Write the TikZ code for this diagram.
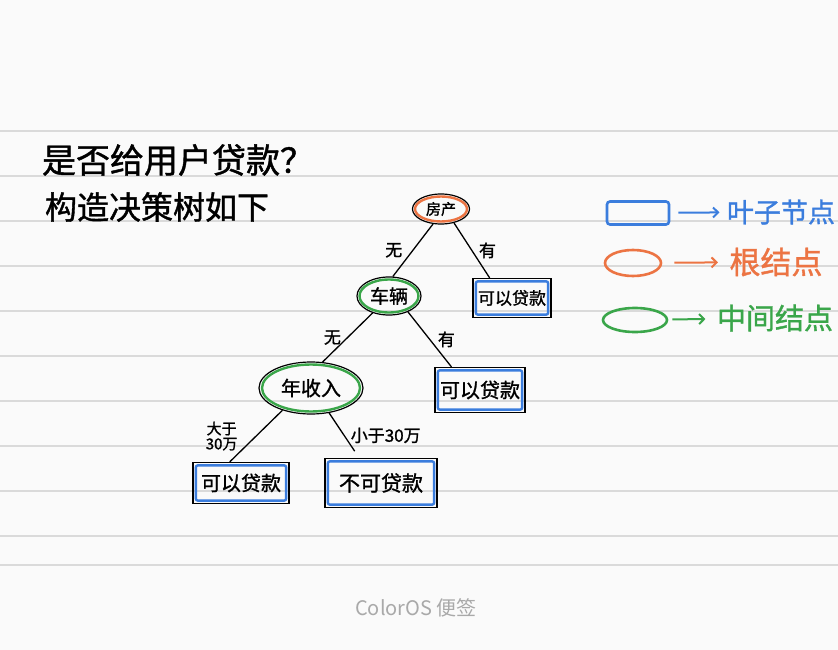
\documentclass[tikz,border=0pt]{standalone}
\usepackage{fontspec}
\usetikzlibrary{shapes.geometric,arrows.meta}
\newfontfamily\cjk{Noto Sans CJK SC}
\newfontfamily\cjkpen[FakeBold=1.2]{Noto Sans CJK SC}
\definecolor{notebg}{HTML}{FAFAFA}
\definecolor{ruleline}{HTML}{DADADA}
\definecolor{leafblue}{HTML}{3B7DDD}
\definecolor{rootorange}{HTML}{EC7443}
\definecolor{midgreen}{HTML}{3AA64A}
\definecolor{footgray}{HTML}{A9A9A9}
\newcommand{\hwsize}[1]{\cjkpen\fontsize{#1}{#1}\selectfont}

\tikzset{
  treenode/.style={ellipse, draw=black, line width=1.2pt, inner sep=0pt},
  leafbox/.style={rectangle, draw=black, line width=1.3pt, inner sep=0pt},
  branch/.style={line width=1.3pt, black},
  branchlabel/.style={font=\hwsize{17}, inner sep=0pt},
  legarrow/.style={line width=2pt, -{Straight Barb[length=5pt,width=10pt]}},
}

\begin{document}
\begin{tikzpicture}[x=1pt,y=-1pt]
    \useasboundingbox (0,0) rectangle (838,650);
    % Paper with ruled lines
    \fill[notebg] (0,0) rectangle (838,650);
    \foreach \y in {131,176,...,536}
        \draw[ruleline, line width=1.2pt] (0,\y) -- (838,\y);
    \draw[ruleline, line width=1.2pt] (0,565) -- (838,565);

    % Title
    \node[font=\hwsize{34}] (title) at (178,160) {是否给用户贷款？};
    \node[font=\hwsize{32}] (subtitle) at (157,207) {构造决策树如下};

    % Decision nodes
    \node[treenode, minimum width=57pt, minimum height=30pt, font=\hwsize{15}] (house) at (441,209) {房产};
    \node[treenode, minimum width=64pt, minimum height=38pt, font=\hwsize{19}] (car) at (389,296) {车辆};
    \node[treenode, minimum width=104pt, minimum height=52pt, font=\hwsize{20}] (income) at (311,388) {年收入};
    \draw[rootorange, line width=2.4pt] (house) ellipse [x radius=26, y radius=12.5];
    \draw[midgreen, line width=2.4pt] (car) ellipse [x radius=29.5, y radius=16.5];
    \draw[midgreen, line width=2.4pt] (income) ellipse [x radius=49, y radius=23.5];

    % Leaves
    \node[leafbox, minimum width=78pt, minimum height=39pt, font=\hwsize{17}] (leafA) at (512,298) {可以贷款};
    \node[leafbox, minimum width=90pt, minimum height=45pt, font=\hwsize{20}] (leafB) at (480,390) {可以贷款};
    \node[leafbox, minimum width=96pt, minimum height=41pt, font=\hwsize{20}] (leafC) at (241,483) {可以贷款};
    \node[leafbox, minimum width=112pt, minimum height=49pt, font=\hwsize{21}] (leafD) at (381,483) {不可贷款};
    \foreach \leaf in {leafA,leafB,leafC,leafD}
        \draw[leafblue, line width=2.4pt, rounded corners=2pt]
            ([shift={(3.5pt,-3.5pt)}]\leaf.north west) rectangle ([shift={(-3.5pt,3.5pt)}]\leaf.south east);

    % Branches
    \draw[branch] (house.242) -- node[branchlabel, left=10pt] (noHouse) {无} (car.79);
    \draw[branch] (house.313) -- node[branchlabel, right=6.5pt] (hasHouse) {有} (leafA.138);
    \draw[branch] (car.226) -- node[branchlabel, left=6pt] (noCar) {无} (income.66);
    \draw[branch] (car.320) -- node[branchlabel, right=7.5pt] (hasCar) {有} (leafB.141);
    \draw[branch] (income.218) -- node[branchlabel, left=18pt, font=\hwsize{15}, align=center] (highIncome) {大于\\30万} (leafC.118);
    \draw[branch, shorten >=8pt] (income.306) -- node[branchlabel, right=6pt] (lowIncome) {小于30万} (leafD.131);

    % Legend
    \node[rectangle, draw=leafblue, line width=2.6pt, rounded corners=3pt, minimum width=62pt, minimum height=23pt] (legLeaf) at (638,213) {};
    \node[ellipse, draw=rootorange, line width=2.6pt, minimum width=56pt, minimum height=26pt] (legRoot) at (633,263) {};
    \node[ellipse, draw=midgreen, line width=2.6pt, minimum width=64pt, minimum height=24pt] (legMid) at (635,320) {};
    \node[font=\hwsize{27}, text=leafblue] (txtLeaf) at (781,212) {叶子节点};
    \node[font=\hwsize{31}, text=rootorange] (txtRoot) at (776,262) {根结点};
    \node[font=\hwsize{29}, text=midgreen] (txtMid) at (775,318) {中间结点};
    \draw[legarrow, leafblue, shorten <=8pt, shorten >=4pt] (legLeaf) -- (txtLeaf);
    \draw[legarrow, rootorange, shorten <=12pt, shorten >=8pt] (legRoot) -- (txtRoot);
    \draw[legarrow, midgreen, shorten <=4pt, shorten >=8pt] (legMid) -- (txtMid);

    % Footer
    \node[font=\cjk\fontsize{20}{20}\selectfont, text=footgray] (footer) at (416,608) {ColorOS 便签};
\end{tikzpicture}
\end{document}
